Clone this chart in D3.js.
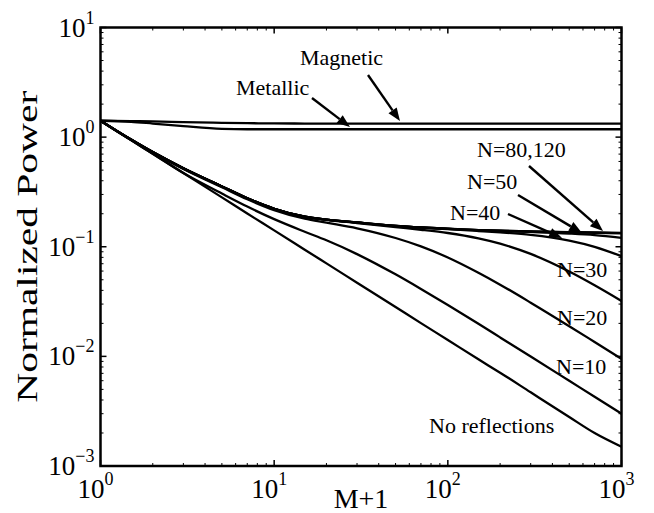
<!DOCTYPE html>
<html><head><meta charset="utf-8">
<script src="https://cdn.jsdelivr.net/npm/d3@7"></script>
<style>
body{margin:0;background:#fff}
text{font-family:"Liberation Serif","Times New Roman",serif;fill:#000}
</style>
</head><body>
<svg id="chart" width="654" height="513"></svg>
<script>
// ---- data ----
const mPlusOne = [1, 1.5, 2, 3, 5, 7, 10, 15, 20, 30, 50, 70, 100, 150, 200, 300, 500, 700, 1000];
const magnetic = [1.41, 1.40, 1.39, 1.37, 1.35, 1.34, 1.335, 1.33, 1.33, 1.33, 1.33, 1.33, 1.33, 1.33, 1.33, 1.33, 1.33, 1.33, 1.33];
const metallic = [1.41, 1.38, 1.33, 1.26, 1.19, 1.18, 1.18, 1.18, 1.18, 1.18, 1.18, 1.18, 1.18, 1.18, 1.18, 1.18, 1.18, 1.18, 1.18];
const n120 = [1.41, 0.95, 0.73, 0.52, 0.355, 0.277, 0.222, 0.188, 0.177, 0.1665, 0.155, 0.150, 0.146, 0.142, 0.140, 0.138, 0.136, 0.135, 0.134];
const n80  = [1.41, 0.95, 0.73, 0.52, 0.355, 0.277, 0.222, 0.188, 0.177, 0.1665, 0.155, 0.150, 0.146, 0.1419, 0.1399, 0.1378, 0.1355, 0.1342, 0.1322];
const n50  = [1.41, 0.95, 0.73, 0.52, 0.355, 0.277, 0.222, 0.188, 0.177, 0.1664, 0.155, 0.1499, 0.1458, 0.1416, 0.1393, 0.1365, 0.1320, 0.1277, 0.1205];
const n40  = [1.41, 0.95, 0.73, 0.52, 0.355, 0.277, 0.222, 0.188, 0.1768, 0.1660, 0.1546, 0.1492, 0.1446, 0.1391, 0.1352, 0.1282, 0.1137, 0.0998, 0.0820];
const n30  = [1.41, 0.949, 0.729, 0.519, 0.3545, 0.2765, 0.2215, 0.1873, 0.1759, 0.1645, 0.1509, 0.1429, 0.1335, 0.1193, 0.1068, 0.0860, 0.0594, 0.0445, 0.0320];
const n20  = [1.41, 0.94, 0.7215, 0.5132, 0.349, 0.2712, 0.2162, 0.1803, 0.1659, 0.1474, 0.1202, 0.1008, 0.0798, 0.0579, 0.0451, 0.0309, 0.01886, 0.01353, 0.0095];
const n10  = [1.41, 0.94, 0.705, 0.47, 0.3055, 0.2325, 0.1785, 0.1370, 0.1145, 0.0857, 0.0560, 0.0412, 0.0294, 0.0198, 0.0149, 0.00997, 0.00599, 0.00428, 0.0030];
const noReflections = [1.41, 0.94, 0.705, 0.47, 0.282, 0.201, 0.141, 0.094, 0.0705, 0.047, 0.0282, 0.0201, 0.0141, 0.0094, 0.0071, 0.0047, 0.0028, 0.0020, 0.0015];
const seriesList = [magnetic, metallic, n120, n80, n50, n40, n30, n20, n10, noReflections];

const xTicks = [1, 10, 100, 1000];
const xTickExps = ["0", "1", "2", "3"];
const yTicks = [0.001, 0.01, 0.1, 1, 10];
const yTickExps = ["\u22123", "\u22122", "\u22121", "0", "1"];
const xLabel = "M+1";
const yLabel = "Normalized Power";

// ---- layout ----
const svg = d3.select("#chart");
const L = 100.5, T = 27.5, R = 621.5, B = 466;
const x = d3.scaleLog().domain([1, 1000]).range([L, R]);
const y = d3.scaleLog().domain([0.001, 10]).range([B, T]);

// curves
const line = d3.line().x((d, i) => x(mPlusOne[i])).y(d => y(d)).curve(d3.curveMonotoneX);
svg.append("g").selectAll("path").data(seriesList).join("path")
  .attr("d", d => line(d)).attr("fill", "none").attr("stroke", "#000").attr("stroke-width", 2.3);

// ticks (inside, major + minor)
const g = svg.append("g").attr("stroke", "#000");
const minorX = [];
for (let e = 0; e < 3; e++) for (let k = 2; k <= 9; k++) minorX.push(k * Math.pow(10, e));
const minorY = [];
for (let e = -3; e < 1; e++) for (let k = 2; k <= 9; k++) minorY.push(k * Math.pow(10, e));
xTicks.forEach(v => {
  g.append("line").attr("x1", x(v)).attr("x2", x(v)).attr("y1", B).attr("y2", B - 6).attr("stroke-width", 1.5);
  g.append("line").attr("x1", x(v)).attr("x2", x(v)).attr("y1", T).attr("y2", T + 6).attr("stroke-width", 1.5);
});
minorX.forEach(v => {
  g.append("line").attr("x1", x(v)).attr("x2", x(v)).attr("y1", B).attr("y2", B - 3).attr("stroke-width", 1);
  g.append("line").attr("x1", x(v)).attr("x2", x(v)).attr("y1", T).attr("y2", T + 3).attr("stroke-width", 1);
});
yTicks.forEach(v => {
  g.append("line").attr("y1", y(v)).attr("y2", y(v)).attr("x1", L).attr("x2", L + 6).attr("stroke-width", 1.5);
  g.append("line").attr("y1", y(v)).attr("y2", y(v)).attr("x1", R).attr("x2", R - 6).attr("stroke-width", 1.5);
});
minorY.forEach(v => {
  g.append("line").attr("y1", y(v)).attr("y2", y(v)).attr("x1", L).attr("x2", L + 3).attr("stroke-width", 1);
  g.append("line").attr("y1", y(v)).attr("y2", y(v)).attr("x1", R).attr("x2", R - 3).attr("stroke-width", 1);
});

// box
svg.append("rect").attr("x", L).attr("y", T).attr("width", R - L).attr("height", B - T)
  .attr("fill", "none").attr("stroke", "#000").attr("stroke-width", 2.5);

// tick labels
const tl = svg.append("g");
xTicks.forEach((v, i) => {
  const t = tl.append("text").attr("x", x(v) - 5).attr("y", B + 32).attr("text-anchor", "middle").style("font-size", "27px");
  t.append("tspan").text("10");
  t.append("tspan").attr("dy", -13).style("font-size", "18px").text(xTickExps[i]);
});
yTicks.forEach((v, i) => {
  const t = tl.append("text").attr("x", L - 6).attr("y", y(v) + 9).attr("text-anchor", "end").style("font-size", "27px");
  t.append("tspan").text("10");
  t.append("tspan").attr("dy", -13).style("font-size", "18px").text(yTickExps[i]);
});

// axis labels
svg.append("text").attr("x", (L + R) / 2).attr("y", 508).attr("text-anchor", "middle").style("font-size", "28px").text(xLabel);
svg.append("text").attr("transform", `translate(37,${(T + B) / 2}) rotate(-90)`).attr("text-anchor", "middle")
  .attr("textLength", 312).attr("lengthAdjust", "spacingAndGlyphs").style("font-size", "29px").text(yLabel);

// annotations
const annotations = [
  {text: "Magnetic", tx: 300, ty: 65, ax1: 368, ay1: 75, ax2: 400, ay2: 121},
  {text: "Metallic", tx: 236, ty: 95, ax1: 312, ay1: 98, ax2: 350, ay2: 127},
  {text: "N=80,120", tx: 477, ty: 157, ax1: 529, ay1: 166, ax2: 603, ay2: 231},
  {text: "N=50", tx: 467, ty: 189, ax1: 518, ay1: 195, ax2: 582, ay2: 233},
  {text: "N=40", tx: 450, ty: 220, ax1: 508, ay1: 214, ax2: 562, ay2: 238},
  {text: "N=30", tx: 557, ty: 277},
  {text: "N=20", tx: 557, ty: 325},
  {text: "N=10", tx: 556, ty: 374},
  {text: "No reflections", tx: 429, ty: 433}
];
const an = svg.append("g");
annotations.forEach(a => {
  an.append("text").attr("x", a.tx).attr("y", a.ty).style("font-size", "22px").text(a.text);
  if (a.ax1 !== undefined) {
    const dx = a.ax2 - a.ax1, dy = a.ay2 - a.ay1, len = Math.hypot(dx, dy);
    const ux = dx / len, uy = dy / len, hl = 13, hw = 5;
    const bx = a.ax2 - ux * hl, by = a.ay2 - uy * hl;
    an.append("line").attr("x1", a.ax1).attr("y1", a.ay1).attr("x2", bx).attr("y2", by)
      .attr("stroke", "#000").attr("stroke-width", 2.4);
    an.append("path").attr("d", `M${a.ax2},${a.ay2}L${bx - uy * hw},${by + ux * hw}L${bx + uy * hw},${by - ux * hw}Z`)
      .attr("fill", "#000");
  }
});
</script>
</body></html>
